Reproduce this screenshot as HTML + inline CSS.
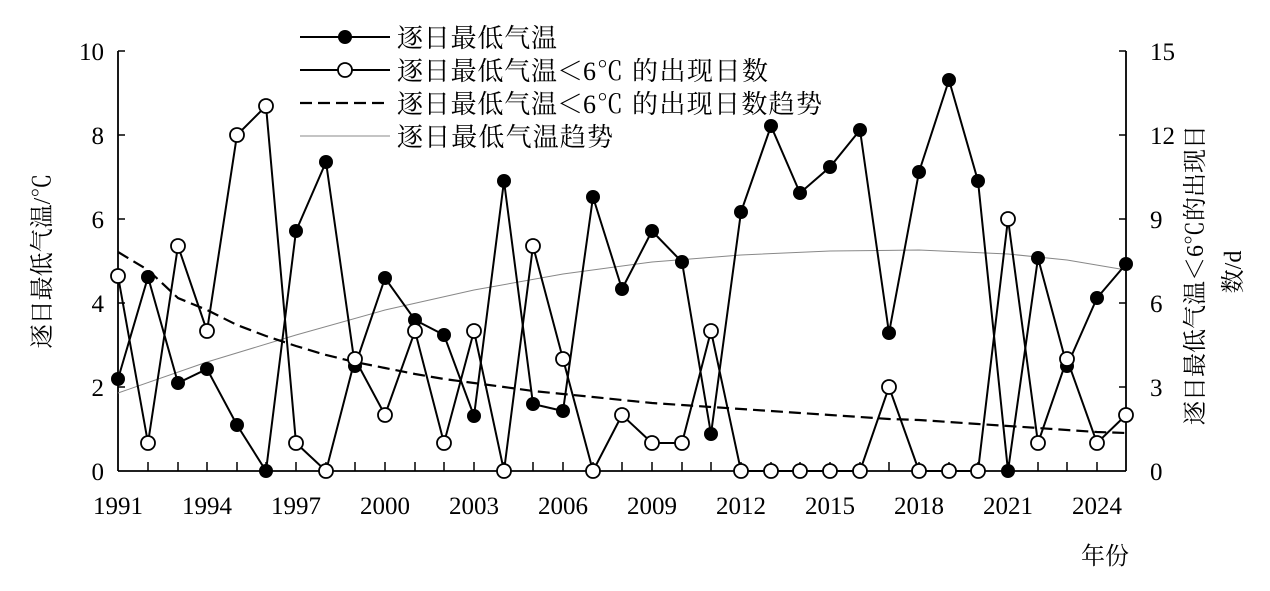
<!DOCTYPE html>
<html><head><meta charset="utf-8"><style>
body{margin:0;background:#fff}
svg text{font-family:"Liberation Serif","Noto Serif CJK SC","Noto Sans CJK SC",serif;fill:#000}
.c{font-family:"Noto Serif CJK SC","Noto Sans CJK SC",serif}
</style></head><body>
<svg width="1270" height="586" viewBox="0 0 1270 586" xmlns="http://www.w3.org/2000/svg">
<g stroke="#000" stroke-width="1.8" fill="none">
<line x1="118" y1="51" x2="118" y2="471"/>
<line x1="1126" y1="51" x2="1126" y2="471"/>
<line x1="118" y1="471" x2="1126" y2="471"/>
</g>
<g stroke="#000" stroke-width="1.5">
<line x1="118" y1="51" x2="125" y2="51"/><line x1="118" y1="135" x2="125" y2="135"/><line x1="118" y1="219" x2="125" y2="219"/><line x1="118" y1="303" x2="125" y2="303"/><line x1="118" y1="387" x2="125" y2="387"/>
<line x1="1126" y1="51" x2="1119" y2="51"/><line x1="1126" y1="135" x2="1119" y2="135"/><line x1="1126" y1="219" x2="1119" y2="219"/><line x1="1126" y1="303" x2="1119" y2="303"/><line x1="1126" y1="387" x2="1119" y2="387"/>
<path d="M148,471v-9M178,471v-9M207,471v-9M237,471v-9M266,471v-9M296,471v-9M326,471v-9M355,471v-9M385,471v-9M415,471v-9M444,471v-9M474,471v-9M504,471v-9M533,471v-9M563,471v-9M593,471v-9M622,471v-9M652,471v-9M682,471v-9M711,471v-9M741,471v-9M771,471v-9M800,471v-9M830,471v-9M860,471v-9M889,471v-9M919,471v-9M949,471v-9M978,471v-9M1008,471v-9M1038,471v-9M1067,471v-9M1097,471v-9"/>
</g>
<g font-size="25" text-anchor="end">
<text x="104" y="60">10</text><text x="104" y="144">8</text><text x="104" y="228">6</text><text x="104" y="312">4</text><text x="104" y="396">2</text><text x="104" y="480">0</text>
</g>
<g font-size="25" text-anchor="start">
<text x="1150" y="60">15</text><text x="1150" y="144">12</text><text x="1150" y="228">9</text><text x="1150" y="312">6</text><text x="1150" y="396">3</text><text x="1150" y="480">0</text>
</g>
<g font-size="25" text-anchor="middle">
<text x="118" y="514">1991</text><text x="207" y="514">1994</text><text x="296" y="514">1997</text><text x="385" y="514">2000</text><text x="474" y="514">2003</text><text x="563" y="514">2006</text><text x="652" y="514">2009</text><text x="741" y="514">2012</text><text x="830" y="514">2015</text><text x="919" y="514">2018</text><text x="1008" y="514">2021</text><text x="1097" y="514">2024</text>
</g>
<text x="1105" y="564" font-size="24" text-anchor="middle">年份</text>
<text transform="translate(50,261) rotate(-90)" font-size="24" text-anchor="middle">逐日最低气温/℃</text>
<text transform="translate(1203,275) rotate(-90)" font-size="24" text-anchor="middle">逐日最低气温<tspan class="c">＜</tspan>6℃的出现日</text>
<text transform="translate(1241,272) rotate(-90)" font-size="24" text-anchor="middle">数/d</text>
<polyline fill="none" stroke="#888" stroke-width="1" points="118,393 207,362 296,335 385,310 474,290 563,274 652,262 741,255 830,251 919,250 1008,254 1067,260 1126,270"/>
<polyline fill="none" stroke="#000" stroke-width="2.2" stroke-dasharray="12,6" points="118,252 148,270 178,298 207,310 237,325 266,336 296,346 326,355 355,362 385,368 415,374 444,379 474,383 504,387 533,391 563,394 593,397 622,400 652,403 682,405 711,407 741,409 771,411 800,413 830,415 860,417 889,419 919,420 949,422 978,424 1008,426 1038,428 1067,430 1097,432 1126,433"/>
<polyline fill="none" stroke="#000" stroke-width="2" points="118,379 148,277 178,383 207,369 237,425 266,471 296,231 326,162 355,366 385,278 415,320 444,335 474,416 504,181 533,404 563,411 593,197 622,289 652,231 682,262 711,434 741,212 771,126 800,193 830,167 860,130 889,333 919,172 949,80 978,181 1008,471 1038,258 1067,366 1097,298 1126,264"/>
<polyline fill="none" stroke="#000" stroke-width="2" points="118,276 148,443 178,246 207,331 237,135 266,106 296,443 326,471 355,359 385,415 415,331 444,443 474,331 504,471 533,246 563,359 593,471 622,415 652,443 682,443 711,331 741,471 771,471 800,471 830,471 860,471 889,387 919,471 949,471 978,471 1008,219 1038,443 1067,359 1097,443 1126,415"/>
<g fill="#000">
<circle cx="118" cy="379" r="7"/><circle cx="148" cy="277" r="7"/><circle cx="178" cy="383" r="7"/><circle cx="207" cy="369" r="7"/><circle cx="237" cy="425" r="7"/><circle cx="266" cy="471" r="7"/><circle cx="296" cy="231" r="7"/><circle cx="326" cy="162" r="7"/><circle cx="355" cy="366" r="7"/><circle cx="385" cy="278" r="7"/><circle cx="415" cy="320" r="7"/><circle cx="444" cy="335" r="7"/><circle cx="474" cy="416" r="7"/><circle cx="504" cy="181" r="7"/><circle cx="533" cy="404" r="7"/><circle cx="563" cy="411" r="7"/><circle cx="593" cy="197" r="7"/><circle cx="622" cy="289" r="7"/><circle cx="652" cy="231" r="7"/><circle cx="682" cy="262" r="7"/><circle cx="711" cy="434" r="7"/><circle cx="741" cy="212" r="7"/><circle cx="771" cy="126" r="7"/><circle cx="800" cy="193" r="7"/><circle cx="830" cy="167" r="7"/><circle cx="860" cy="130" r="7"/><circle cx="889" cy="333" r="7"/><circle cx="919" cy="172" r="7"/><circle cx="949" cy="80" r="7"/><circle cx="978" cy="181" r="7"/><circle cx="1008" cy="471" r="7"/><circle cx="1038" cy="258" r="7"/><circle cx="1067" cy="366" r="7"/><circle cx="1097" cy="298" r="7"/><circle cx="1126" cy="264" r="7"/>
</g>
<g fill="#fff" stroke="#000" stroke-width="1.8">
<circle cx="118" cy="276" r="7"/><circle cx="148" cy="443" r="7"/><circle cx="178" cy="246" r="7"/><circle cx="207" cy="331" r="7"/><circle cx="237" cy="135" r="7"/><circle cx="266" cy="106" r="7"/><circle cx="296" cy="443" r="7"/><circle cx="326" cy="471" r="7"/><circle cx="355" cy="359" r="7"/><circle cx="385" cy="415" r="7"/><circle cx="415" cy="331" r="7"/><circle cx="444" cy="443" r="7"/><circle cx="474" cy="331" r="7"/><circle cx="504" cy="471" r="7"/><circle cx="533" cy="246" r="7"/><circle cx="563" cy="359" r="7"/><circle cx="593" cy="471" r="7"/><circle cx="622" cy="415" r="7"/><circle cx="652" cy="443" r="7"/><circle cx="682" cy="443" r="7"/><circle cx="711" cy="331" r="7"/><circle cx="741" cy="471" r="7"/><circle cx="771" cy="471" r="7"/><circle cx="800" cy="471" r="7"/><circle cx="830" cy="471" r="7"/><circle cx="860" cy="471" r="7"/><circle cx="889" cy="387" r="7"/><circle cx="919" cy="471" r="7"/><circle cx="949" cy="471" r="7"/><circle cx="978" cy="471" r="7"/><circle cx="1008" cy="219" r="7"/><circle cx="1038" cy="443" r="7"/><circle cx="1067" cy="359" r="7"/><circle cx="1097" cy="443" r="7"/><circle cx="1126" cy="415" r="7"/>
</g>
<line x1="300" y1="37" x2="390" y2="37" stroke="#000" stroke-width="2"/><circle cx="345" cy="37" r="7" fill="#000"/>
<line x1="300" y1="70" x2="390" y2="70" stroke="#000" stroke-width="2"/><circle cx="345" cy="70" r="7" fill="#fff" stroke="#000" stroke-width="1.8"/>
<line x1="300" y1="103" x2="390" y2="103" stroke="#000" stroke-width="2.2" stroke-dasharray="12,6"/>
<line x1="300" y1="136" x2="390" y2="136" stroke="#888" stroke-width="1"/>
<g font-size="26">
<text x="397" y="47" textLength="160" lengthAdjust="spacing">逐日最低气温</text>
<text y="80"><tspan x="397" textLength="160" lengthAdjust="spacing">逐日最低气温</tspan><tspan class="c" x="557">＜</tspan><tspan x="583">6</tspan><tspan class="c" x="597">℃</tspan><tspan x="632" textLength="136" lengthAdjust="spacing">的出现日数</tspan></text>
<text y="113"><tspan x="397" textLength="160" lengthAdjust="spacing">逐日最低气温</tspan><tspan class="c" x="557">＜</tspan><tspan x="583">6</tspan><tspan class="c" x="597">℃</tspan><tspan x="632" textLength="190" lengthAdjust="spacing">的出现日数趋势</tspan></text>
<text x="397" y="146" textLength="216" lengthAdjust="spacing">逐日最低气温趋势</text>
</g>
</svg>
</body></html>
